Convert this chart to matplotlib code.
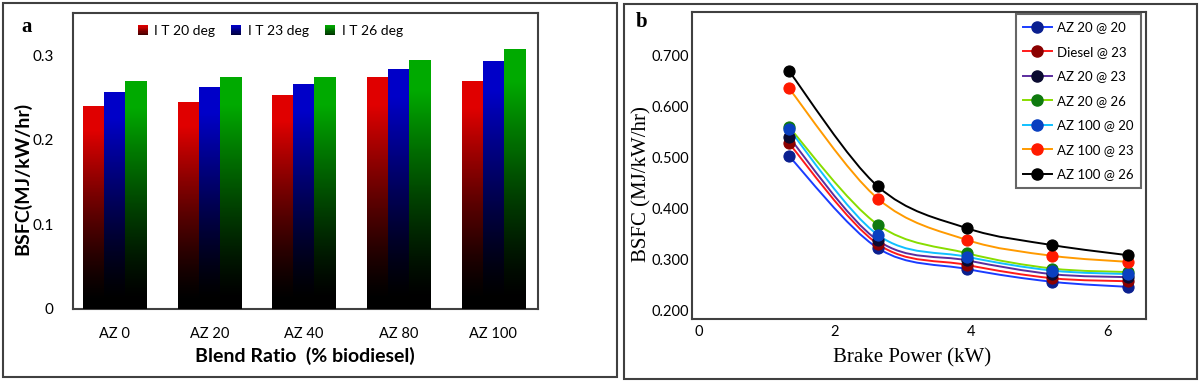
import numpy as np
import matplotlib
matplotlib.use("Agg")
import matplotlib.pyplot as plt
from matplotlib.patches import Rectangle, PathPatch
from matplotlib.path import Path
from matplotlib.lines import Line2D
from matplotlib.legend_handler import HandlerBase
import matplotlib.colors as mcolors

# ---------------- data ----------------
blends = ["AZ 0", "AZ 20", "AZ 40", "AZ 80", "AZ 100"]
bar_series = ["I T 20 deg", "I T 23 deg", "I T 26 deg"]
it20 = [0.240, 0.245, 0.253, 0.274, 0.270]
it23 = [0.256, 0.263, 0.266, 0.284, 0.293]
it26 = [0.270, 0.274, 0.274, 0.294, 0.307]
bar_colors = ["#e00000", "#0000c8", "#00aa00"]

power = [1.32, 2.63, 3.94, 5.19, 6.31]
line_labels = ["AZ 20 @ 20", "Diesel @ 23", "AZ 20 @ 23", "AZ 20 @ 26",
               "AZ 100 @ 20", "AZ 100 @ 23", "AZ 100 @ 26"]
az20_20 = [0.504, 0.323, 0.282, 0.257, 0.247]
diesel_23 = [0.529, 0.331, 0.290, 0.264, 0.258]
az20_23 = [0.541, 0.338, 0.299, 0.272, 0.266]
az20_26 = [0.561, 0.369, 0.313, 0.283, 0.276]
az100_20 = [0.557, 0.349, 0.306, 0.279, 0.272]
az100_23 = [0.637, 0.420, 0.339, 0.308, 0.296]
az100_26 = [0.671, 0.444, 0.362, 0.329, 0.309]
line_colors = ["#1a3cff", "#ff1a1a", "#5b2d9e", "#88dd00", "#10c0ff", "#ff9a00", "#000000"]
marker_colors = ["#0a1f8f", "#8b0000", "#0a0a30", "#0f7a0f", "#0a40c0", "#ff1a00", "#000000"]

plt.rcParams['font.family'] = ['Lato', 'DejaVu Sans']

fig = plt.figure(figsize=(12, 3.83), dpi=100)
FT = fig.transFigure

# panel frames
fig.add_artist(Rectangle((3/1200, 1-377/383), 614/1200, 374/383, transform=FT,
                         fill=False, ec="#404040", lw=1.5))
fig.add_artist(Rectangle((624/1200, 1-379/383), 573/1200, 375/383, transform=FT,
                         fill=False, ec="#404040", lw=1.5))

# ---------------- panel a ----------------
axa = fig.add_axes([73/1200, 1-309/383, 465/1200, 296/383])
x = np.arange(len(blends))
w = 0.222
series = [it20, it23, it26]
for i, (vals, col) in enumerate(zip(series, bar_colors)):
    bars = axa.bar(x + (i-1)*w, vals, w, color=col, lw=0, zorder=2)
    rgb = np.array(mcolors.to_rgb(col))
    t = np.linspace(0, 1, 256)
    inten = np.clip((t - 0.04) / 0.84, 0, 1) ** 1.3
    grad = (inten[:, None] * rgb[None, :])[:, None, :]
    for b in bars:
        x0, y0 = b.get_x(), b.get_y()
        im = axa.imshow(grad, origin="lower", aspect="auto",
                        extent=(x0, x0 + b.get_width(), y0, y0 + b.get_height()),
                        zorder=3, interpolation="nearest")
        im.set_clip_path(b)
axa.set_xlim(-0.44, 4.475)
axa.set_ylim(0, 0.35)
axa.set_yticks([0, 0.1, 0.2, 0.3])
axa.set_yticklabels(["0", "0.1", "0.2", "0.3"])
axa.set_xticks(x)
axa.set_xticklabels(blends)
axa.tick_params(axis="y", length=0, pad=14, labelsize=11)
axa.tick_params(axis="x", length=0, pad=13, labelsize=10.5)
for s in axa.spines.values():
    s.set_color("#404040")
    s.set_linewidth(1.5)
axa.set_xlabel("Blend Ratio  (% biodiesel)", fontsize=14, fontweight="bold")
axa.xaxis.set_label_coords(305/1200, 1-347/383, transform=FT)
axa.set_ylabel("BSFC(MJ/kW/hr)", fontsize=14, fontweight="bold")
axa.yaxis.set_label_coords(31/1200, 1-178/383, transform=FT)


class GradHandler(HandlerBase):
    def __init__(self, color):
        super().__init__()
        self.color = np.array(mcolors.to_rgb(color))

    def create_artists(self, legend, orig_handle, xdescent, ydescent, width, height, fontsize, trans):
        arts = []
        n = 8
        sq = height * 1.0
        x0 = -xdescent + (width - sq) / 2
        for k in range(n):
            f = 0.2 + 0.8 * (k + 1) / n
            r = Rectangle((x0, -ydescent + (height - sq)/2 + sq * k / n), sq, sq / n,
                          fc=self.color * f, ec="none", transform=trans)
            arts.append(r)
        return arts


handles = [Rectangle((0, 0), 1, 1, color=c) for c in bar_colors]
leg_a = axa.legend(handles, bar_series, loc="center", bbox_to_anchor=(270/1200, 1-31/383),
                   bbox_transform=FT, ncol=3, frameon=False, fontsize=10,
                   handlelength=0.8, handletextpad=0.45, columnspacing=1.1,
                   handler_map={h: GradHandler(c) for h, c in zip(handles, bar_colors)})
fig.text(27/1200, 1-27/383, "a", fontsize=15, fontweight="bold", family="Liberation Serif",
         ha="center", va="center")

# ---------------- panel b ----------------
axb = fig.add_axes([692/1200, 1-319/383, 454/1200, 307/383])
line_series = [az20_20, diesel_23, az20_23, az20_26, az100_20, az100_23, az100_26]


def smooth_path(xs, ys):
    xs = np.asarray(xs, float)
    ys = np.asarray(ys, float)
    P = np.column_stack([xs, ys])
    verts = [P[0]]
    codes = [Path.MOVETO]
    n = len(P)
    for i in range(n - 1):
        p0 = P[i - 1] if i > 0 else P[i]
        p1, p2 = P[i], P[i + 1]
        p3 = P[i + 2] if i + 2 < n else P[i + 1]
        c1 = p1 + (p2 - p0) / 6
        c2 = p2 - (p3 - p1) / 6
        verts += [c1, c2, p2]
        codes += [Path.CURVE4] * 3
    return Path(verts, codes)


legend_handles = []
for vals, lc, mc, lab in zip(line_series, line_colors, marker_colors, line_labels):
    axb.add_patch(PathPatch(smooth_path(power, vals), fill=False, ec=lc, lw=1.4, zorder=2))
    axb.plot(power, vals, linestyle="none", marker="o", ms=8, mfc=mc, mec=mc, mew=0.8, zorder=3)
    legend_handles.append(Line2D([], [], color=lc, lw=1.4, marker="o", ms=8, mfc=mc, mec=mc))

axb.set_xlim(-0.1, 6.57)
axb.set_ylim(0.184, 0.786)
axb.set_xticks([0, 2, 4, 6])
axb.set_yticks([0.2, 0.3, 0.4, 0.5, 0.6, 0.7])
axb.set_yticklabels(["0.200", "0.300", "0.400", "0.500", "0.600", "0.700"])
axb.tick_params(axis="both", length=0, labelsize=10.5)
axb.tick_params(axis="x", pad=4)
axb.tick_params(axis="y", pad=2)
for s in axb.spines.values():
    s.set_color("#404040")
    s.set_linewidth(1.5)
axb.set_xlabel("Brake Power (kW)", fontsize=15, family="Liberation Serif")
axb.xaxis.set_label_coords(912/1200, 1-348/383, transform=FT)
axb.set_ylabel("BSFC (MJ/kW/hr)", fontsize=15, family="Liberation Serif")
axb.yaxis.set_label_coords(651/1200, 1-184/383, transform=FT)
leg_b = axb.legend(legend_handles, line_labels, loc="upper right", bbox_to_anchor=(1141/1200, 1-14/383),
                   bbox_transform=FT, fontsize=9.5, frameon=True, fancybox=False,
                   handlelength=2.2, handletextpad=0.4, labelspacing=0.95, borderpad=0.55,
                   borderaxespad=0)
leg_b.get_frame().set_edgecolor("#404040")
leg_b.get_frame().set_linewidth(1.5)
fig.text(642/1200, 1-22/383, "b", fontsize=15, fontweight="bold", family="Liberation Serif",
         ha="center", va="center")

fig.savefig("out.png", dpi=100)
